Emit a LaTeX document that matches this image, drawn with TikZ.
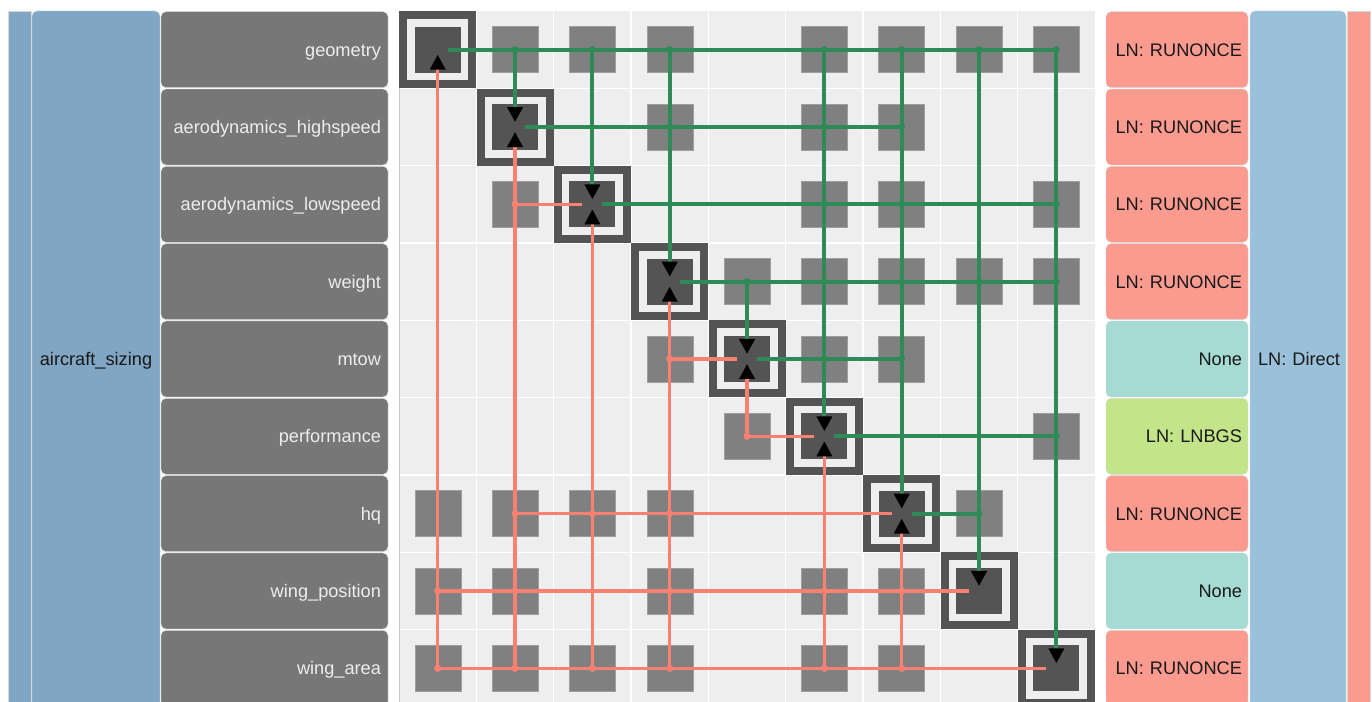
\documentclass[tikz,border=0pt]{standalone}
\usepackage{fontspec}
\setsansfont{Liberation Sans}
\usetikzlibrary{arrows.meta,positioning,calc}
\definecolor{compgray}{HTML}{777777}
\definecolor{grpblue}{HTML}{80A6C4}
\definecolor{solveblue}{HTML}{9BC1DA}
\definecolor{lnred}{HTML}{FB9A8F}
\definecolor{nonefill}{HTML}{A6DBD3}
\definecolor{lnbgs}{HTML}{C4E48A}
\definecolor{cellbg}{HTML}{EEEEEE}
\definecolor{fwdgreen}{HTML}{2E8B57}
\definecolor{bwdred}{HTML}{FA8072}
\newcommand{\labelfont}{\sffamily\fontsize{18.2}{21}\selectfont}
\def\cellw{77.33}

\begin{document}
\begin{tikzpicture}[x=1pt, y=-1pt,
  comp/.style={draw=white!85!black, fill=compgray, rounded corners=5pt, minimum width=227pt, minimum height=76pt, text width=213pt, text height=13.1pt, text depth=0pt, align=right, inner sep=7pt, text=white!93!black, font=\labelfont},
  solverbox/.style={draw=white!85!black, rounded corners=5pt, minimum width=142pt, minimum height=76pt, text width=130pt, text height=13.1pt, text depth=0pt, align=right, inner sep=6pt, text=black!90, font=\labelfont},
  groupbox/.style={draw=white!85!black, rounded corners=5pt, minimum height=696pt, text height=13.1pt, text depth=0pt, inner sep=0pt, font=\labelfont, text=black!90},
  blk/.style={draw=black!38, fill=black!50, minimum size=46pt, inner sep=0pt},
  diagbox/.style={fill=black!67, minimum size=46pt, inner sep=0pt},
  diagframe/.style={draw=black!67, line width=8pt, minimum size=69pt, inner sep=0pt},
  gridline/.style={white, line width=1.5pt},
  fwd/.style={line width=4pt, fwdgreen},
  bwd/.style={line width=3.5pt, bwdred},
  arrowin/.style={-{Triangle[length=15pt, width=15pt, color=black]}}
]
  \useasboundingbox (0,0) rectangle (1372,701);
  \clip (0,0) rectangle (1372,701);

  % groups and solvers
  \node[groupbox, sharp corners, fill=grpblue, minimum width=23pt] (outer) at (19.5,359) {};
  \node[groupbox, fill=grpblue, minimum width=128pt] (sizing) at (96,359) {aircraft\_sizing};
  \node[groupbox, fill=solveblue, minimum width=96pt, text width=84pt, align=right] (direct) at (1298,359) {LN: Direct};
  \node[groupbox, sharp corners, fill=lnred, minimum width=23pt] (outersolver) at (1359,359) {};

  \foreach \name [count=\i] in {geometry, aerodynamics\_highspeed, aerodynamics\_lowspeed, weight, mtow, performance, hq, wing\_position, wing\_area}
    \node[comp] (c\i) at (274.5, {\i*\cellw-27.66}) {\name};

  \foreach \fc/\txt [count=\i] in {lnred/LN: RUNONCE, lnred/LN: RUNONCE, lnred/LN: RUNONCE, lnred/LN: RUNONCE, nonefill/None, lnbgs/LN: LNBGS, lnred/LN: RUNONCE, nonefill/None, lnred/LN: RUNONCE}
    \node[solverbox, fill=\fc] (s\i) at (1177, {\i*\cellw-27.66}) {\txt};

  % matrix
  \fill[cellbg] (399,11) rectangle (1095,707);
  \foreach \k in {1,...,8} {
    \draw[gridline] ({399+\k*\cellw},11) -- ({399+\k*\cellw},707);
    \draw[gridline] (399,{11+\k*\cellw}) -- (1095,{11+\k*\cellw});
  }
  \draw[black!22] (399,11) -- (399,707);

  \foreach \r/\c in {1/2,1/3,1/4,1/6,1/7,1/8,1/9, 2/4,2/6,2/7, 3/2,3/6,3/7,3/9, 4/5,4/6,4/7,4/8,4/9, 5/4,5/6,5/7, 6/5,6/9, 7/1,7/2,7/3,7/4,7/8, 8/1,8/2,8/4,8/6,8/7, 9/1,9/2,9/3,9/4,9/6,9/7}
    \node[blk] (b\r-\c) at ({\c*\cellw+360.37}, {\r*\cellw-27.66}) {};

  \foreach \i in {1,...,9} {
    \node[diagframe] (f\i) at ({\i*\cellw+360.37}, {\i*\cellw-27.66}) {};
    \node[diagbox] (d\i) at (f\i) {};
  }

  % feed-forward
  \foreach \r/\c in {1/9,2/7,3/9,4/9,5/7,6/9,7/8}
    \draw[fwd] ([xshift=10pt]d\r.center) -- (b\r-\c.center);
  \foreach \r/\c in {1/2,1/3,1/4,4/5,1/6,1/7,1/8,1/9}
    \draw[fwd, arrowin] (b\r-\c.center) -- ([yshift=5pt]d\c.center);

  % feedback
  \foreach \r/\c in {3/2,5/4,6/5,7/2,8/1,9/1}
    \draw[bwd] (b\r-\c.center) -- ([xshift=-10pt]d\r.center);
  \foreach \r/\c in {9/1,9/2,9/3,9/4,6/5,9/6,9/7}
    \draw[bwd, arrowin] (b\r-\c.center) -- ([yshift=-5pt]d\c.center);

  \foreach \r/\c in {1/2,1/3,1/4,1/6,1/7,1/8,1/9, 2/4,2/6,2/7, 3/6,3/7,3/9, 4/5,4/6,4/7,4/8,4/9, 5/6,5/7, 6/9, 7/8}
    \fill[fwdgreen] (b\r-\c.center) circle (3.5pt);
  \foreach \r/\c in {3/2, 5/4, 6/5, 7/2,7/3,7/4, 8/1,8/2,8/4,8/6,8/7, 9/1,9/2,9/3,9/4,9/6,9/7}
    \fill[bwdred] (b\r-\c.center) circle (3.5pt);
\end{tikzpicture}
\end{document}
